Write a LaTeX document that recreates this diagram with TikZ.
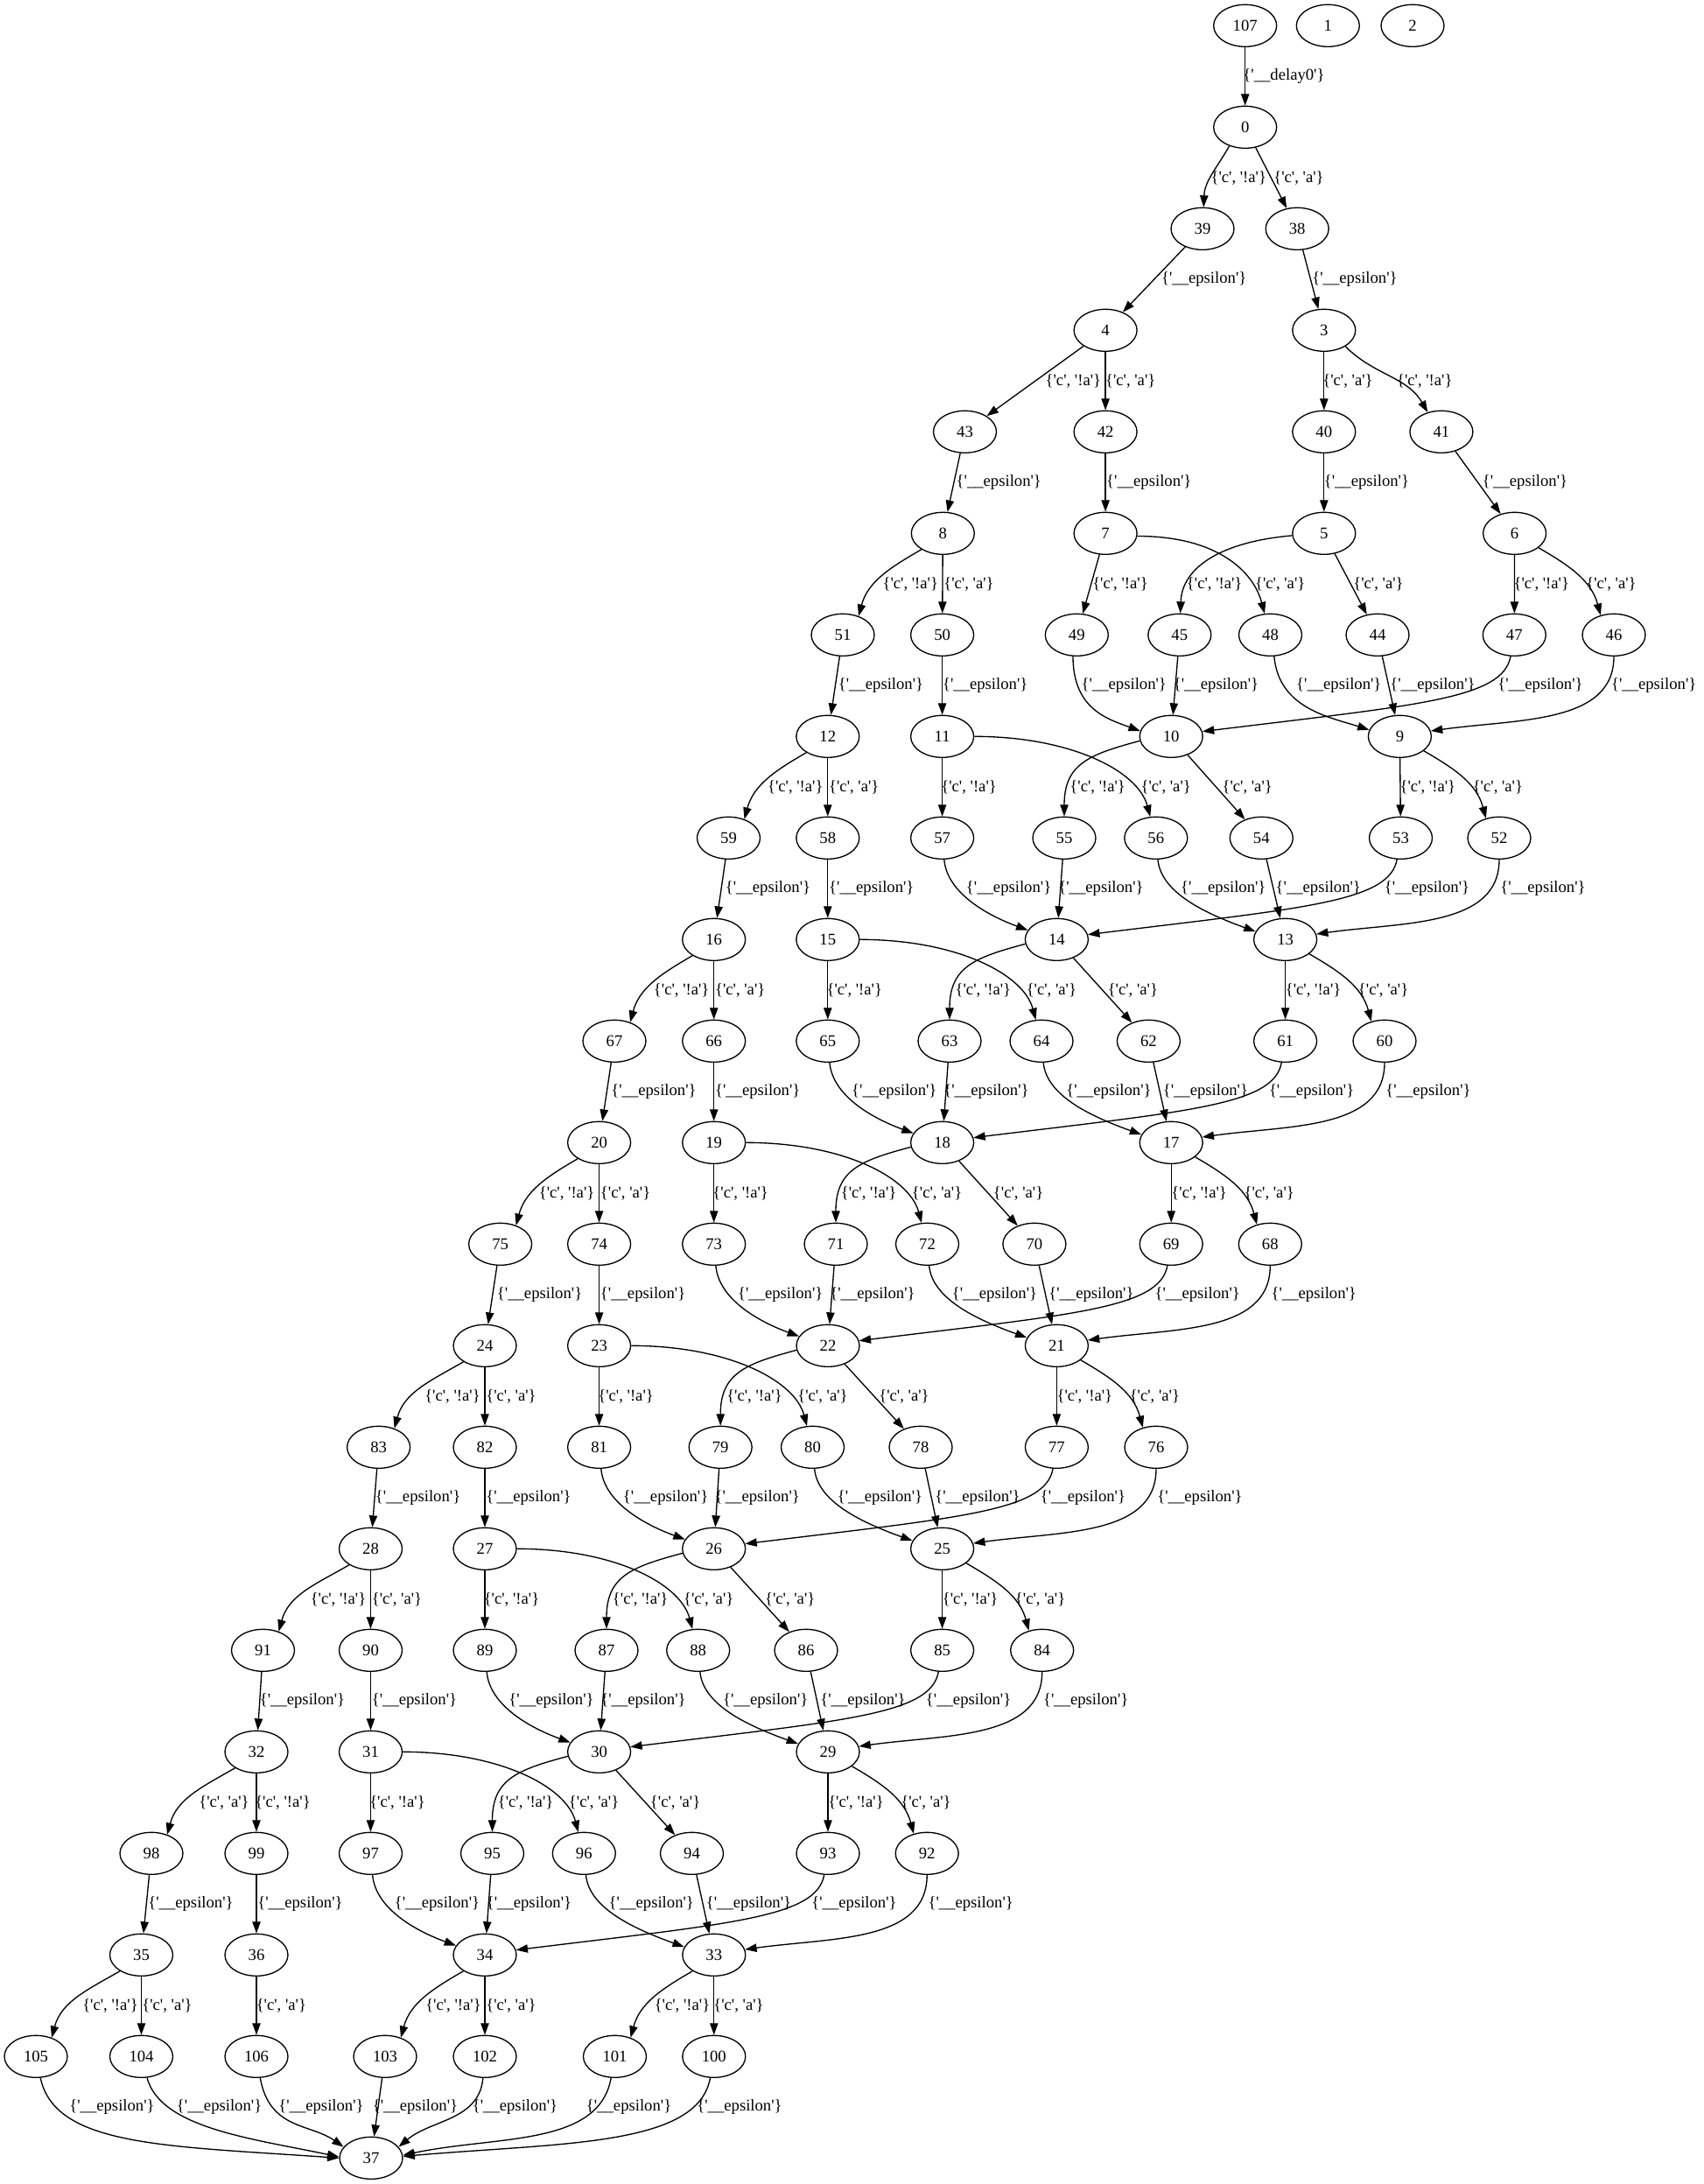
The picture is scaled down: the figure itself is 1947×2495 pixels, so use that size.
\documentclass[tikz,border=0pt]{standalone}
\usepackage{fontspec}
\newfontfamily\gv{Liberation Serif}
\usetikzlibrary{arrows.meta,shapes.geometric,calc}
\newcommand\gvf{\gv\fontsize{14pt}{16pt}\selectfont}
\newcommand\Lna{\{'c', '!a'\}}
\newcommand\Lya{\{'c', 'a'\}}
\newcommand\Leps{\{'\_\_epsilon'\}}
\newcommand\Ldel{\{'\_\_delay0'\}}
\tikzset{
  st/.style={draw, ellipse, line width=1pt, minimum width=54pt, minimum height=36pt, inner sep=0pt, font=\gvf},
  e/.style={draw, line width=1pt, -{Triangle[length=10pt,width=7pt]}},
  lbl/.style={inner sep=0pt, font=\gvf},
}
\begin{document}
\begin{tikzpicture}[x=0.75pt,y=0.75pt]
\useasboundingbox (0,0) rectangle (1947,-2495);
% ---------- nodes ----------
\node[st] (n107) at (1422.7,-29.3) {107};
\node[st] (n1) at (1517.3,-29.3) {1};
\node[st] (n2) at (1614,-29.3) {2};
\node[st] (n0) at (1422.7,-145.3) {0};
\node[st] (n39) at (1374,-261.3) {39};
\node[st] (n38) at (1482.2,-261.3) {38};
\node[st] (n4) at (1263.1,-377.3) {4};
\node[st] (n3) at (1512.8,-377.3) {3};
\node[st] (n43) at (1102.5,-493.3) {43};
\node[st] (n42) at (1263.1,-493.3) {42};
\node[st] (n40) at (1512.8,-493.3) {40};
\node[st] (n41) at (1646.9,-493.3) {41};
\node[st] (n8) at (1077.3,-609.3) {8};
\node[st] (n7) at (1263.1,-609.3) {7};
\node[st] (n5) at (1512.8,-609.3) {5};
\node[st] (n6) at (1730.6,-609.3) {6};
\node[st] (n51) at (963,-725.3) {51};
\node[st] (n50) at (1076.6,-725.3) {50};
\node[st] (n49) at (1230.3,-725.3) {49};
\node[st] (n45) at (1347.8,-725.3) {45};
\node[st] (n48) at (1451.5,-725.3) {48};
\node[st] (n44) at (1574,-725.3) {44};
\node[st] (n47) at (1730.3,-725.3) {47};
\node[st] (n46) at (1844,-725.3) {46};
\node[st] (n12) at (945.8,-841.3) {12};
\node[st] (n11) at (1076.6,-841.3) {11};
\node[st] (n10) at (1338.2,-841.3) {10};
\node[st] (n9) at (1599.4,-841.3) {9};
\node[st] (n59) at (832.5,-957.3) {59};
\node[st] (n58) at (945.8,-957.3) {58};
\node[st] (n57) at (1076.6,-957.3) {57};
\node[st] (n55) at (1216,-957.3) {55};
\node[st] (n56) at (1320.8,-957.3) {56};
\node[st] (n54) at (1441.3,-957.3) {54};
\node[st] (n53) at (1600.5,-957.3) {53};
\node[st] (n52) at (1713,-957.3) {52};
\node[st] (n16) at (815.7,-1073.3) {16};
\node[st] (n15) at (945.8,-1073.3) {15};
\node[st] (n14) at (1207.4,-1073.3) {14};
\node[st] (n13) at (1468.6,-1073.3) {13};
\node[st] (n67) at (702,-1189.3) {67};
\node[st] (n66) at (815.7,-1189.3) {66};
\node[st] (n65) at (945.8,-1189.3) {65};
\node[st] (n63) at (1085,-1189.3) {63};
\node[st] (n64) at (1190,-1189.3) {64};
\node[st] (n62) at (1312.4,-1189.3) {62};
\node[st] (n61) at (1468.6,-1189.3) {61};
\node[st] (n60) at (1582,-1189.3) {60};
\node[st] (n20) at (684.6,-1305.3) {20};
\node[st] (n19) at (815.7,-1305.3) {19};
\node[st] (n18) at (1076.6,-1305.3) {18};
\node[st] (n17) at (1338.2,-1305.3) {17};
\node[st] (n75) at (571.6,-1421.3) {75};
\node[st] (n74) at (684.6,-1421.3) {74};
\node[st] (n73) at (815.7,-1421.3) {73};
\node[st] (n71) at (955,-1421.3) {71};
\node[st] (n72) at (1059.5,-1421.3) {72};
\node[st] (n70) at (1181.9,-1421.3) {70};
\node[st] (n69) at (1338.2,-1421.3) {69};
\node[st] (n68) at (1451.3,-1421.3) {68};
\node[st] (n24) at (554,-1537.3) {24};
\node[st] (n23) at (684.6,-1537.3) {23};
\node[st] (n22) at (946,-1537.3) {22};
\node[st] (n21) at (1207.4,-1537.3) {21};
\node[st] (n83) at (432.6,-1653.3) {83};
\node[st] (n82) at (554,-1653.3) {82};
\node[st] (n81) at (684.6,-1653.3) {81};
\node[st] (n79) at (823.2,-1653.3) {79};
\node[st] (n80) at (928.5,-1653.3) {80};
\node[st] (n78) at (1052,-1653.3) {78};
\node[st] (n77) at (1207.4,-1653.3) {77};
\node[st] (n76) at (1321,-1653.3) {76};
\node[st] (n28) at (423.5,-1769.3) {28};
\node[st] (n27) at (554,-1769.3) {27};
\node[st] (n26) at (815.7,-1769.3) {26};
\node[st] (n25) at (1076.6,-1769.3) {25};
\node[st] (n91) at (300.5,-1885.3) {91};
\node[st] (n90) at (423.5,-1885.3) {90};
\node[st] (n89) at (554,-1885.3) {89};
\node[st] (n87) at (693,-1885.3) {87};
\node[st] (n88) at (797.7,-1885.3) {88};
\node[st] (n86) at (921,-1885.3) {86};
\node[st] (n85) at (1076.6,-1885.3) {85};
\node[st] (n84) at (1190.7,-1885.3) {84};
\node[st] (n32) at (293,-2001.3) {32};
\node[st] (n31) at (423.5,-2001.3) {31};
\node[st] (n30) at (684.6,-2001.3) {30};
\node[st] (n29) at (946,-2001.3) {29};
\node[st] (n98) at (173,-2117.3) {98};
\node[st] (n99) at (293,-2117.3) {99};
\node[st] (n97) at (423.5,-2117.3) {97};
\node[st] (n95) at (562.5,-2117.3) {95};
\node[st] (n96) at (667.3,-2117.3) {96};
\node[st] (n94) at (790.5,-2117.3) {94};
\node[st] (n93) at (946,-2117.3) {93};
\node[st] (n92) at (1059.2,-2117.3) {92};
\node[st] (n35) at (161.5,-2233.3) {35};
\node[st] (n36) at (293,-2233.3) {36};
\node[st] (n34) at (554,-2233.3) {34};
\node[st] (n33) at (815.8,-2233.3) {33};
\node[st] (n105) at (41,-2349.3) {105};
\node[st] (n104) at (161.5,-2349.3) {104};
\node[st] (n106) at (293,-2349.3) {106};
\node[st] (n103) at (440,-2349.3) {103};
\node[st] (n102) at (554,-2349.3) {102};
\node[st] (n101) at (702.5,-2349.3) {101};
\node[st] (n100) at (815.8,-2349.3) {100};
\node[st] (n37) at (424,-2465.3) {37};
% ---------- top edges ----------
\draw[e] (n107) -- (n0);
\node[lbl] (l107-0) at (1467,-87.3) {\Ldel};
\draw[e] (n0.-130) to[out=-120,in=88] (n39.87);
\node[lbl] (l0-39) at (1415.3,-203.3) {\Lna};
\draw[e] (n0) -- (n38);
\node[lbl] (l0-38) at (1484,-203.3) {\Lya};
\draw[e] (n39) -- (n4);
\node[lbl] (l39-4) at (1375.7,-319.3) {\Leps};
\draw[e] (n38) -- (n3);
\node[lbl] (l38-3) at (1548,-319.3) {\Leps};
\draw[e] (n4) -- (n43);
\node[lbl] (l4-43) at (1226.4,-435.3) {\Lna};
\draw[e] (n4) -- (n42);
\node[lbl] (l4-42) at (1291.7,-435.3) {\Lya};
\draw[e] (n3) -- (n40);
\node[lbl] (l3-40) at (1540,-435.3) {\Lya};
\draw[e] (n3.-37) to[out=-45,in=120] (n41.125);
\node[lbl] (l3-41) at (1627.8,-435.3) {\Lna};
\draw[e] (n43) -- (n8);
\node[lbl] (l43-8) at (1141.3,-551.3) {\Leps};
\draw[e] (n42) -- (n7);
\node[lbl] (l42-7) at (1312.8,-551.3) {\Leps};
\draw[e] (n40) -- (n5);
\node[lbl] (l40-5) at (1561.4,-551.3) {\Leps};
\draw[e] (n41) -- (n6);
\node[lbl] (l41-6) at (1742.5,-551.3) {\Leps};
% ---------- first block (8,7,5,6) ----------
\draw[e] (n8.-143) to[out=-150,in=75] (n51.50);
\node[lbl] (l8-51) at (1040.3,-667.3) {\Lna};
\draw[e] (n8) -- (n50);
\node[lbl] (l8-50) at (1107,-667.3) {\Lya};
\draw[e] (n7) -- (n49);
\node[lbl] (l7-49) at (1280,-667.3) {\Lna};
\draw[e] (n7.-5) to[out=0,in=105,out distance=68pt,in distance=38pt] (n48.105);
\node[lbl] (l7-48) at (1462.7,-667.3) {\Lya};
\draw[e] (n5.184) to[out=185,in=88,out distance=60pt,in distance=40pt] (n45.88);
\node[lbl] (l5-45) at (1387.7,-667.3) {\Lna};
\draw[e] (n5) -- (n44);
\node[lbl] (l5-44) at (1575,-667.3) {\Lya};
\draw[e] (n6) -- (n47);
\node[lbl] (l6-47) at (1761.3,-667.3) {\Lna};
\draw[e] (n6.-31) to[out=-30,in=105] (n46.124);
\node[lbl] (l6-46) at (1841,-667.3) {\Lya};
\draw[e] (n51) -- (n12);
\node[lbl] (l51-12) at (1006.5,-783.3) {\Leps};
\draw[e] (n50) -- (n11);
\node[lbl] (l50-11) at (1125.7,-783.3) {\Leps};
\draw[e] (n49.-100) to[out=-90,in=160,out distance=45pt,in distance=30pt] (n10.170);
\node[lbl] (l49-10) at (1284.3,-783.3) {\Leps};
\draw[e] (n45) -- (n10);
\node[lbl] (l45-10) at (1389.5,-783.3) {\Leps};
\draw[e] (n48.-80) to[out=-85,in=162,out distance=45pt,in distance=35pt] (n9.168);
\node[lbl] (l48-9) at (1529.8,-783.3) {\Leps};
\draw[e] (n44) -- (n9);
\node[lbl] (l44-9) at (1637,-783.3) {\Leps};
\draw[e] (n47.-100) to[out=-100,in=7,out distance=37pt,in distance=187pt] (n10.9);
\node[lbl] (l47-10) at (1760,-783.3) {\Leps};
\draw[e] (n46.-90) to[out=-90,in=8,out distance=58pt,in distance=75pt] (n9.10);
\node[lbl] (l46-9) at (1889.7,-783.3) {\Leps};
% ---------- regular blocks ----------
\foreach \A/\B/\C/\D/\Aa/\Ab/\Ba/\Ca/\Bb/\Cb/\Da/\Db/\An/\Bn/\Cn/\Dn/\La/\Lb in {
  12/11/10/9/59/58/57/55/56/54/53/52/16/15/14/13/\Lna/\Lya,
  16/15/14/13/67/66/65/63/64/62/61/60/20/19/18/17/\Lna/\Lya,
  20/19/18/17/75/74/73/71/72/70/69/68/24/23/22/21/\Lna/\Lya,
  24/23/22/21/83/82/81/79/80/78/77/76/28/27/26/25/\Lna/\Lya,
  28/27/26/25/91/90/89/87/88/86/85/84/32/31/30/29/\Lna/\Lya,
  32/31/30/29/98/99/97/95/96/94/93/92/35/36/34/33/\Lya/\Lna}{
  \draw[e] (n\A.-143) to[out=-150,in=75] (n\Aa.50);
  \node[lbl] (l\A-\Aa) at ($(n\A)+(-37,-58)$) {\La};
  \draw[e] (n\A) -- (n\Ab);
  \node[lbl] (l\A-\Ab) at ($(n\A)+(30,-58)$) {\Lb};
  \draw[e] (n\B) -- (n\Ba);
  \node[lbl] (l\B-\Ba) at ($(n\B)+(30.5,-58)$) {\Lna};
  \draw[e] (n\B.east) to[out=0,in=105,out distance=82pt,in distance=41pt] (n\Bb.105);
  \node[lbl] (l\B-\Bb) at ($(n\C)+(-6,-58)$) {\Lya};
  \draw[e] (n\C.188) to[out=195,in=90,out distance=45pt,in distance=45pt] (n\Ca.north);
  \node[lbl] (l\C-\Ca) at ($(n\C)+(-84,-58)$) {\Lna};
  \draw[e] (n\C) -- (n\Cb);
  \node[lbl] (l\C-\Cb) at ($(n\C)+(87,-58)$) {\Lya};
  \draw[e] (n\D) -- (n\Da);
  \node[lbl] (l\D-\Da) at ($(n\D)+(32,-58)$) {\Lna};
  \draw[e] (n\D.-31) to[out=-30,in=105] (n\Db.124);
  \node[lbl] (l\D-\Db) at ($(n\D)+(112,-58)$) {\Lya};
  \draw[e] (n\Aa) -- (n\An);
  \node[lbl] (l\Aa-\An) at ($(n\Aa)+(45,-58)$) {\Leps};
  \draw[e] (n\Ab) -- (n\Bn);
  \node[lbl] (l\Ab-\Bn) at ($(n\Ab)+(50,-58)$) {\Leps};
  \draw[e] (n\Ba.-85) to[out=-85,in=160,out distance=30pt,in distance=34pt] (n\Cn.162);
  \node[lbl] (l\Ba-\Cn) at ($(n\Ba)+(76,-58)$) {\Leps};
  \draw[e] (n\Ca) -- (n\Cn);
  \node[lbl] (l\Ca-\Cn) at ($(n\Ca)+(42,-58)$) {\Leps};
  \draw[e] (n\Bb.-85) to[out=-85,in=160,out distance=30pt,in distance=41pt] (n\Dn.165);
  \node[lbl] (l\Bb-\Dn) at ($(n\Bb)+(77,-58)$) {\Leps};
  \draw[e] (n\Cb) -- (n\Dn);
  \node[lbl] (l\Cb-\Dn) at ($(n\Cb)+(65,-58)$) {\Leps};
  \draw[e] (n\Da.-100) to[out=-100,in=7,out distance=37pt,in distance=187pt] (n\Cn.9);
  \node[lbl] (l\Da-\Cn) at ($(n\Da)+(30,-58)$) {\Leps};
  \draw[e] (n\Db.-90) to[out=-90,in=8,out distance=58pt,in distance=75pt] (n\Dn.10);
  \node[lbl] (l\Db-\Dn) at ($(n\Db)+(50,-58)$) {\Leps};
}
% ---------- bottom ----------
\draw[e] (n35.-143) to[out=-150,in=75] (n105.50);
\node[lbl] (l35-105) at (126,-2291.3) {\Lna};
\draw[e] (n35) -- (n104);
\node[lbl] (l35-104) at (191,-2291.3) {\Lya};
\draw[e] (n36) -- (n106);
\node[lbl] (l36-106) at (321.4,-2291.3) {\Lya};
\draw[e] (n34.-143) to[out=-150,in=75] (n103.50);
\node[lbl] (l34-103) at (518,-2291.3) {\Lna};
\draw[e] (n34) -- (n102);
\node[lbl] (l34-102) at (584,-2291.3) {\Lya};
\draw[e] (n33.-143) to[out=-150,in=75] (n101.50);
\node[lbl] (l33-101) at (779.5,-2291.3) {\Lna};
\draw[e] (n33) -- (n100);
\node[lbl] (l33-100) at (844,-2291.3) {\Lya};
\draw[e] (n105.-78) to[out=-78,in=176,out distance=60pt,in distance=150pt] (n37.180);
\node[lbl] (l105-37) at (128,-2407.3) {\Leps};
\draw[e] (n104.-75) to[out=-75,in=168,out distance=45pt,in distance=75pt] (n37.178);
\node[lbl] (l104-37) at (250.6,-2407.3) {\Leps};
\draw[e] (n106.-80) to[out=-80,in=145,out distance=45pt,in distance=35pt] (n37.158);
\node[lbl] (l106-37) at (367,-2407.3) {\Leps};
\draw[e] (n103) -- (n37);
\node[lbl] (l103-37) at (474.5,-2407.3) {\Leps};
\draw[e] (n102.-95) to[out=-95,in=40] (n37.22);
\node[lbl] (l102-37) at (588.5,-2407.3) {\Leps};
\draw[e] (n101.-100) to[out=-100,in=12,out distance=60pt,in distance=82pt] (n37.5);
\node[lbl] (l101-37) at (718.6,-2407.3) {\Leps};
\draw[e] (n100.-100) to[out=-100,in=5,out distance=60pt,in distance=135pt] (n37.3);
\node[lbl] (l100-37) at (845,-2407.3) {\Leps};
\end{tikzpicture}
\end{document}
